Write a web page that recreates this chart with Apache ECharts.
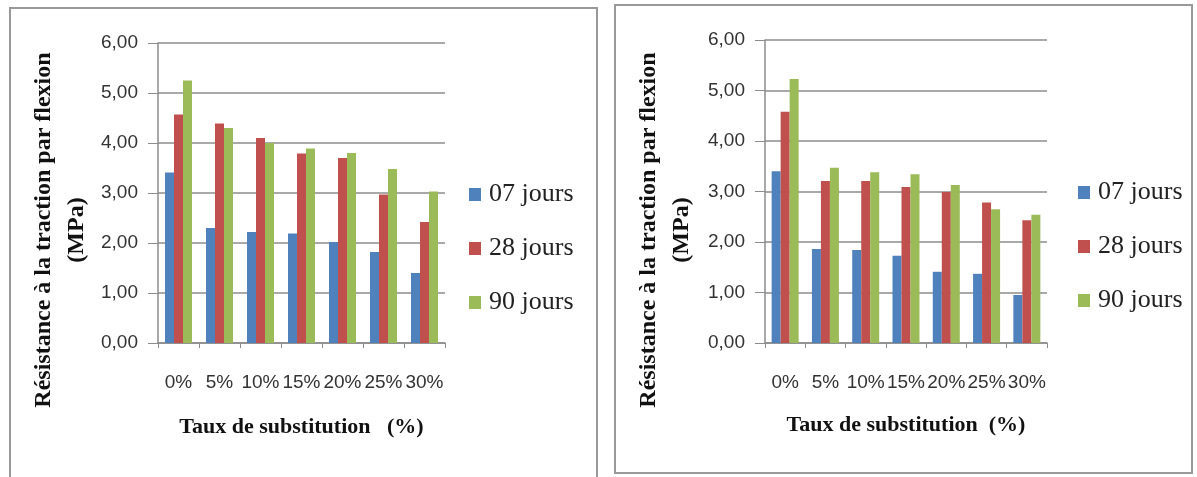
<!DOCTYPE html>
<html><head><meta charset="utf-8">
<script src="https://cdn.jsdelivr.net/npm/echarts@6/dist/echarts.min.js"></script>
<style>html,body{margin:0;padding:0;background:#fff}#c{width:1197px;height:477px}</style>
</head><body><div id="c"></div>
<script>
const categories = ['0%','5%','10%','15%','20%','25%','30%'];
const seriesNames = ['07 jours','28 jours','90 jours'];
const yTickLabels = ['0,00','1,00','2,00','3,00','4,00','5,00','6,00'];
// Left chart
const left07 = [3.41, 2.30, 2.22, 2.19, 2.02, 1.82, 1.40];
const left28 = [4.57, 4.39, 4.10, 3.79, 3.70, 2.97, 2.42];
const left90 = [5.25, 4.30, 4.00, 3.89, 3.80, 3.48, 3.03];
// Right chart
const right07 = [3.40, 1.86, 1.84, 1.73, 1.41, 1.37, 0.95];
const right28 = [4.58, 3.21, 3.21, 3.09, 2.99, 2.78, 2.43];
const right90 = [5.23, 3.47, 3.38, 3.34, 3.13, 2.65, 2.54];
const yTitle = 'Résistance à la traction par flexion\n(MPa)';
const xTitleLeft = 'Taux de substitution   (%)';
const xTitleRight = 'Taux de substitution  (%)';

const colors = ['#4F81BD','#C0504D','#9BBB59'];
const tickFont = "'Liberation Sans', Arial, sans-serif";
const serif = "'Liberation Serif', 'Times New Roman', serif";

function xAx(gi,title,gap){
  return {type:'category', gridIndex:gi, data:categories,
    axisLine:{lineStyle:{color:'#8c8c8c',width:1.5}},
    axisTick:{show:true,alignWithLabel:false,length:5,lineStyle:{color:'#8c8c8c'}},
    axisLabel:{interval:0,margin:30,fontSize:19,color:'#333',fontFamily:tickFont},
    name:title,nameLocation:'middle',nameGap:gap,
    nameTextStyle:{fontFamily:serif,fontWeight:'bold',fontSize:22,color:'#111'}};
}
function yAx(gi){
  return {type:'value', gridIndex:gi, min:0, max:6, interval:1,
    axisLine:{show:true,lineStyle:{color:'#8c8c8c',width:1.5}},
    axisTick:{show:true,length:10,lineStyle:{color:'#8c8c8c'}},
    splitLine:{lineStyle:{color:'#8c8c8c',width:1.5}},
    axisLabel:{margin:20,fontSize:19,color:'#333',fontFamily:tickFont,
      formatter:v=>yTickLabels[Math.round(v)]}};
}
function bars(gi,data,i){
  return {type:'bar',name:seriesNames[i],xAxisIndex:gi,yAxisIndex:gi,data:data,
    barWidth:9,barGap:'0%',itemStyle:{color:colors[i]}};
}
function legend(left,top){
  return {orient:'vertical',left:left,top:top,data:seriesNames,itemWidth:12,itemHeight:13,itemGap:27,
    icon:'rect',selectedMode:false,
    textStyle:{fontFamily:serif,fontSize:26,color:'#222',lineHeight:27,padding:[0,0,0,3]}};
}
function yTitleText(cx,cy){
  return {type:'text',x:cx,y:cy,rotation:Math.PI/2,silent:true,
    style:{text:yTitle,align:'center',verticalAlign:'middle',lineHeight:33,
      font:"bold 24px 'Liberation Serif', 'Times New Roman', serif",fill:'#111'}};
}
const chart = echarts.init(document.getElementById('c'));
chart.setOption({
  animation:false,
  color:colors,
  grid:[{left:158,top:43,width:287,height:300},{left:765,top:40,width:282,height:303}],
  xAxis:[xAx(0,xTitleLeft,73),xAx(1,xTitleRight,71)],
  yAxis:[yAx(0),yAx(1)],
  legend:[legend(464,176),legend(1073,174)],
  series:[bars(0,left07,0),bars(0,left28,1),bars(0,left90,2),
          bars(1,right07,0),bars(1,right28,1),bars(1,right90,2)],
  graphic:[
    {type:'polyline',shape:{points:[[10,479],[10,8],[597,8],[597,479]]},style:{fill:null,stroke:'#999',lineWidth:2},silent:true},
    {type:'rect',shape:{x:615,y:5,width:577,height:468},style:{fill:null,stroke:'#999',lineWidth:2},silent:true},
    yTitleText(60.5,230),
    yTitleText(665.5,230)
  ]
});
</script></body></html>
